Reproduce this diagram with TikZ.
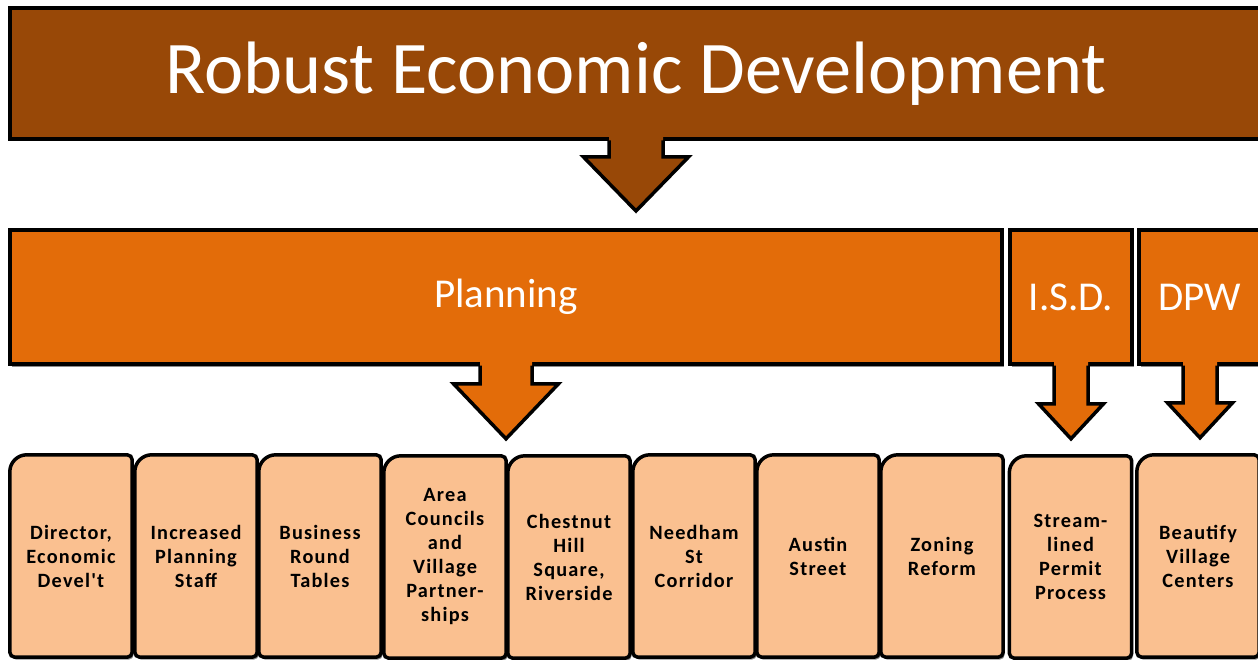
\documentclass[tikz,border=0pt]{standalone}
\usepackage{fontspec}
\setmainfont{Carlito}
\newfontfamily\boxfont[LetterSpace=6]{Carlito}
\usetikzlibrary{calc,shadows,backgrounds}
\definecolor{topbrown}{HTML}{984807}
\definecolor{midorange}{HTML}{E36C09}
\definecolor{lightorange}{HTML}{FAC090}
\tikzset{
  shad/.style={drop shadow={shadow xshift=1.5pt,shadow yshift=-2.5pt,fill=black!45,opacity=1}},
  bar/.style={draw=black,line width=4pt,rectangle,inner sep=0pt,text=white,shad},
  itembox/.style={rectangle,inner sep=0pt,minimum width=122pt,minimum height=202pt,
     align=center,font=\boxfont\bfseries\fontsize{20.3}{24}\selectfont,text=black},
  itemframe/.style={draw=black,line width=3.5pt,fill=lightorange,shad},
  arrowline/.style={draw=black,line width=3.5pt,line join=miter},
}
\newcommand\itemframe[1]{%
  \draw[itemframe] (#1.west) [rounded corners=5pt] -- (#1.south west) -- (#1.south east)
     -- (#1.north east) [rounded corners=17pt] -- (#1.north west) -- cycle;}
% #1 src  #2 tgt  #3 shaft half  #4 head half  #5 head length  #6 colour
\newcommand\fatdown[6]{%
  \path let \p1=(#1.south), \p2=(#2.north), \n1={\y2+17pt}, \n2={\y2+17pt+#5} in
    [fill=#6] (\x1-#3,\y1+6pt) -- (\x1-#3,\n2) -- (\x1-#4,\n2) -- (\x1,\n1)
       -- (\x1+#4,\n2) -- (\x1+#3,\n2) -- (\x1+#3,\y1+6pt) -- cycle;
  \path let \p1=(#1.south), \p2=(#2.north), \n1={\y2+17pt}, \n2={\y2+17pt+#5} in
    [arrowline] (\x1-#3,\y1+0.5pt) -- (\x1-#3,\n2) -- (\x1-#4,\n2) -- (\x1,\n1)
       -- (\x1+#4,\n2) -- (\x1+#3,\n2) -- (\x1+#3,\y1+0.5pt);}
\begin{document}
\begin{tikzpicture}[x=1pt,y=-1pt]
\useasboundingbox (0,0) rectangle (1258,660);
% bars
\node[bar,fill=topbrown,minimum width=1252pt,minimum height=131pt,
      font=\fontsize{74.3}{80}\selectfont] (top) at (636,73.5) {Robust Economic Development};
\node[bar,fill=midorange,minimum width=992pt,minimum height=134pt,
      font=\fontsize{41}{46}\selectfont] (plan) at (506,297) {Planning};
\node[bar,fill=midorange,minimum width=122pt,minimum height=134pt,
      font=\fontsize{41}{46}\selectfont] (isd) at (1071,297) {I.S.D.};
\node[bar,fill=midorange,minimum width=122pt,minimum height=134pt,
      font=\fontsize{41}{46}\selectfont] (dpw) at (1200,297) {DPW};
% items
\node[itembox] (b1) at (71,556) {Director,\\Economic\\Devel't};
\node[itembox] (b2) at (196,556) {Increased\\Planning\\Staff};
\node[itembox] (b3) at (320,556) {Business\\Round\\Tables};
\node[itembox] (b4) at (445,557) {Area\\Councils\\and\\Village\\Partner-\\ships};
\node[itembox] (b5) at (569,557) {Chestnut\\Hill\\Square,\\Riverside};
\node[itembox] (b6) at (694,556) {Needham\\St\\Corridor};
\node[itembox] (b7) at (818,556) {Austin\\Street};
\node[itembox] (b8) at (942,556) {Zoning\\Reform};
\node[itembox] (b9) at (1070.5,557) {Stream-\\lined\\Permit\\Process};
\node[itembox] (b10) at (1198,556) {Beautify\\Village\\Centers};
\begin{scope}[on background layer]
\foreach \b in {b1,b2,b3,b4,b5,b6,b7,b8,b9,b10} {\itemframe{\b}}
\end{scope}
% arrows
\fatdown{top}{plan}{27pt}{52.5pt}{54pt}{topbrown}
\fatdown{plan}{b5}{26pt}{52.5pt}{55pt}{midorange}
\fatdown{isd}{b9}{17pt}{32.5pt}{35pt}{midorange}
\fatdown{dpw}{b10}{17pt}{32.5pt}{35pt}{midorange}
\end{tikzpicture}
\end{document}
